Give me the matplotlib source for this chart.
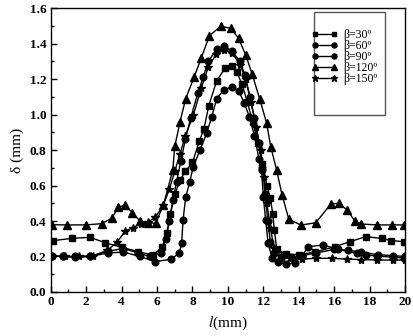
import matplotlib
matplotlib.use("Agg")
import matplotlib.pyplot as plt
from matplotlib.ticker import MultipleLocator
from matplotlib.patches import Rectangle

plt.rcParams['font.family'] = ['Liberation Serif', 'DejaVu Serif']
plt.rcParams['mathtext.fontset'] = 'stix'

# beta = 30 (squares)
l30 = [0.11, 1.18, 2.22, 3.06, 4.0, 4.94, 5.79, 6.3, 6.55, 6.75, 7.0, 7.3, 7.6, 8.0, 8.39, 8.65,
       8.92, 9.37, 9.86, 10.22, 10.5, 10.8, 11.1, 11.4, 11.7, 11.95, 12.2, 12.4, 12.53, 12.62,
       12.76, 13.28, 14.0, 14.9, 16.03, 16.88, 17.78, 18.67, 19.23, 19.95]
d30 = [0.289, 0.302, 0.308, 0.278, 0.252, 0.227, 0.208, 0.255, 0.33, 0.44, 0.55, 0.63, 0.68, 0.73,
       0.85, 0.92, 1.05, 1.19, 1.265, 1.275, 1.24, 1.17, 1.07, 0.96, 0.84, 0.72, 0.60, 0.53, 0.44,
       0.35, 0.24, 0.215, 0.21, 0.225, 0.255, 0.283, 0.312, 0.302, 0.29, 0.283]

# beta = 60 (circles)
l60 = [0.06, 0.71, 1.37, 2.22, 3.25, 4.1, 4.94, 5.6, 6.2, 6.5, 6.7, 6.9, 7.1, 7.35, 7.6, 7.9,
       8.3, 8.6, 8.89, 9.36, 9.79, 10.21, 10.68, 10.96, 11.25, 11.5, 11.75, 11.95, 12.1, 12.25,
       12.4, 12.6, 13.0, 13.6, 14.2, 15.0, 16.0, 16.8, 17.5, 18.5, 19.3, 20.0]
d60 = [0.203, 0.20, 0.20, 0.20, 0.23, 0.245, 0.22, 0.20, 0.22, 0.30, 0.40, 0.52, 0.62, 0.74, 0.86,
       0.98, 1.12, 1.21, 1.30, 1.367, 1.385, 1.36, 1.30, 1.222, 1.10, 0.98, 0.84, 0.70, 0.55, 0.40,
       0.28, 0.22, 0.19, 0.19, 0.205, 0.22, 0.24, 0.235, 0.225, 0.21, 0.205, 0.20]

# beta = 90 (circles)
l90 = [0.06, 0.71, 1.37, 2.22, 3.25, 4.1, 5.04, 5.88, 6.77, 7.25, 7.39, 7.47, 7.62, 7.85, 8.04,
       8.43, 8.8, 9.09, 9.37, 9.78, 10.22, 10.63, 10.93, 11.21, 11.5, 11.75, 11.9, 12.0, 12.13,
       12.27, 12.5, 12.84, 13.3, 13.78, 14.16, 14.53, 15.38, 16.22, 17.26, 17.82, 18.4, 19.3, 19.95]
d90 = [0.203, 0.20, 0.195, 0.20, 0.22, 0.225, 0.20, 0.171, 0.184, 0.218, 0.274, 0.406, 0.537, 0.62,
       0.706, 0.80, 0.894, 0.988, 1.09, 1.14, 1.155, 1.13, 1.063, 0.988, 0.88, 0.75, 0.687, 0.537,
       0.406, 0.274, 0.19, 0.171, 0.155, 0.165, 0.20, 0.255, 0.265, 0.24, 0.218, 0.208, 0.203,
       0.196, 0.192]

# beta = 120 (triangles)
l120 = [0.06, 0.9, 1.99, 2.87, 3.44, 3.81, 4.19, 4.6, 5.04, 5.5, 5.92, 6.36, 6.89, 7.0, 7.3, 7.62,
        8.09, 8.5, 8.96, 9.6, 10.17, 10.6, 11.0, 11.37, 11.8, 12.18, 12.42, 12.75, 13.06, 13.44,
        14.12, 14.96, 15.81, 16.26, 16.73, 17.16, 17.54, 18.42, 19.29, 19.95]
d120 = [0.379, 0.378, 0.378, 0.385, 0.415, 0.477, 0.49, 0.447, 0.40, 0.39, 0.387, 0.49, 0.687, 0.82,
        0.96, 1.09, 1.21, 1.32, 1.445, 1.497, 1.486, 1.43, 1.337, 1.228, 1.086, 0.954, 0.819, 0.687,
        0.546, 0.41, 0.377, 0.39, 0.496, 0.50, 0.462, 0.40, 0.383, 0.378, 0.378, 0.378]

# beta = 150 (stars)
l150 = [0.06, 0.8, 1.6, 2.4, 3.2, 3.76, 4.2, 4.63, 5.08, 5.51, 5.9, 6.36, 6.7, 7.0, 7.3, 7.6, 8.05,
        8.5, 8.9, 9.35, 9.8, 10.25, 10.7, 11.0, 11.3, 11.6, 11.85, 12.05, 12.2, 12.4, 12.6, 13.0,
        13.5, 14.16, 15.0, 15.85, 16.73, 17.5, 18.4, 19.3, 20.0]
d150 = [0.203, 0.20, 0.20, 0.205, 0.235, 0.282, 0.344, 0.362, 0.385, 0.396, 0.42, 0.49, 0.58, 0.68,
        0.78, 0.88, 0.997, 1.15, 1.27, 1.34, 1.365, 1.345, 1.28, 1.20, 1.07, 0.93, 0.80, 0.65, 0.50,
        0.36, 0.25, 0.20, 0.19, 0.185, 0.19, 0.19, 0.185, 0.183, 0.18, 0.18, 0.18]

labels = ['β=30º', 'β=60º', 'β=90º', 'β=120º', 'β=150º']
series = [(l30, d30, 's', 4.3), (l60, d60, 'o', 4.8), (l90, d90, 'o', 4.8),
          (l120, d120, '^', 5.2), (l150, d150, '*', 6)]

fig = plt.figure(figsize=(4.13, 3.36), dpi=100)
ax = fig.add_axes([0.1228, 0.131, 0.858, 0.845])

for (x, y, m, ms), lab in zip(series, labels):
    ax.plot(x, y, color='black', lw=1.0, marker=m, ms=ms, mfc='black', mec='black', label=lab)

ax.set_xlim(0, 20)
ax.set_ylim(0, 1.6)
ax.xaxis.set_major_locator(MultipleLocator(2))
ax.xaxis.set_minor_locator(MultipleLocator(1))
ax.yaxis.set_major_locator(MultipleLocator(0.2))
ax.yaxis.set_minor_locator(MultipleLocator(0.1))
ax.yaxis.set_major_formatter(plt.FuncFormatter(lambda v, p: f'{v:.1f}'))
ax.xaxis.set_major_formatter(plt.FuncFormatter(lambda v, p: f'{v:.0f}'))
ax.tick_params(which='both', direction='in', top=False, right=False, labelsize=9.5, width=1.0)
ax.tick_params(which='major', length=4.5, pad=3)
ax.tick_params(which='minor', length=2.5)
for lab in ax.get_xticklabels() + ax.get_yticklabels():
    lab.set_fontweight('bold')
for s in ax.spines.values():
    s.set_linewidth(1.0)

ax.set_xlabel(r'$\mathit{l}$(mm)', fontsize=11, labelpad=4)
ax.set_ylabel('δ (mm)', fontsize=11, labelpad=4)

# legend frame (drawn separately, it has extra room below the entries)
ax.add_patch(Rectangle((0.743, 0.623), 0.2, 0.363, transform=ax.transAxes, fill=False,
                       edgecolor='#555555', lw=1.0, zorder=5))
leg = ax.legend(loc='upper left', bbox_to_anchor=(0.735, 0.927), fontsize=8.5, frameon=False,
                handlelength=2.2, handletextpad=0.5, labelspacing=-0.08, borderpad=0,
                borderaxespad=0, markerscale=0.75, numpoints=2)

fig.savefig('out.png', dpi=100)
